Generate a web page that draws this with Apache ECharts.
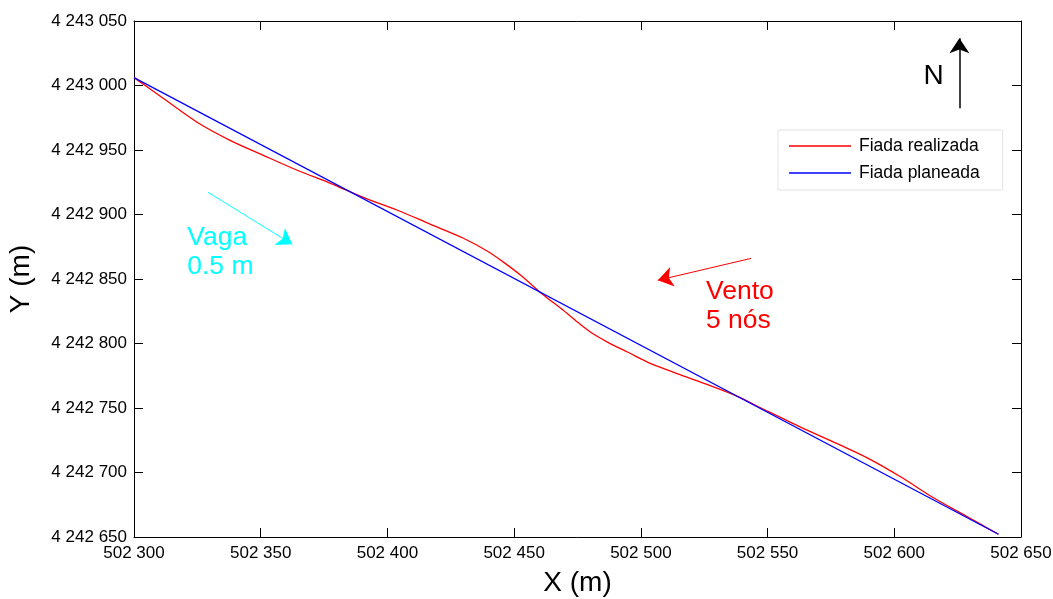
<!DOCTYPE html>
<html><head><meta charset="utf-8">
<script src="https://cdn.jsdelivr.net/npm/echarts@6/dist/echarts.min.js"></script>
<style>html,body{margin:0;padding:0;background:#fff}#c{width:1053px;height:599px}</style>
</head><body><div id="c"></div>
<script>
// ---- data ----
const xRange = [502300, 502650];
const yRange = [4242650, 4243050];
const tickStep = 50;

const seriesNames = ['Fiada realizada', 'Fiada planeada'];

const realX = [502300.0, 502311.5, 502324.9, 502337.9, 502351.0, 502364.4, 502377.5, 502390.5, 502404.0, 502417.0, 502430.0, 502439.5, 502445.9, 502452.6, 502461.7, 502468.4, 502475.1, 502480.2, 502487.0, 502494.9, 502502.8, 502513.0, 502524.9, 502538.3, 502547.4, 502563.2, 502576.3, 502589.7, 502602.8, 502615.8, 502629.2, 502641.1];
const realY = [4243006.1, 4242990.1, 4242971.5, 4242957.5, 4242945.9, 4242934.3, 4242924.2, 4242913.3, 4242903.3, 4242892.4, 4242881.6, 4242871.5, 4242862.9, 4242852.9, 4242837.4, 4242827.3, 4242816.4, 4242808.7, 4242800.9, 4242793.2, 4242785.4, 4242777.7, 4242769.1, 4242758.8, 4242750.0, 4242735.0, 4242723.4, 4242711.0, 4242696.3, 4242680.0, 4242665.3, 4242652.1];

const planX = [502300.0, 502641.1];
const planY = [4243006.1, 4242652.1];

// annotations (data coordinates)
const waveArrow = [[502329.2, 4242917.2], [502362.5, 4242876.9]];
const windArrow = [[502543.5, 4242866.0], [502506.7, 4242849.0]];
const northArrow = [[502625.7, 4242982.3], [502625.7, 4243036.6]];
const waveText = {pos: [502321.0, 4242893.2], text: 'Vaga\n0.5 m'};
const windText = {pos: [502525.7, 4242851.5], text: 'Vento\n5 nós'};
const northText = {pos: [502611.5, 4243019.5], text: 'N'};

// ---- chart ----
const fmt = v => String(v).replace(/\B(?=(\d{3})+(?!\d))/g, ' ');
const pairs = (xs, ys) => xs.map((x, i) => [x, ys[i]]);
const FONT = 'Liberation Sans, Arial, sans-serif';

function axisBase(extra) {
  return Object.assign({
    type: 'value',
    interval: tickStep,
    axisLine: {show: true, onZero: false, lineStyle: {color: '#000', width: 1}},
    axisTick: {show: true, inside: true, length: 9, lineStyle: {color: '#000'}},
    splitLine: {show: false},
  }, extra);
}

const chart = echarts.init(document.getElementById('c'), null, {renderer: 'canvas'});
chart.setOption({
  animation: false,
  backgroundColor: '#fff',
  grid: {left: 134, right: 32, top: 21, bottom: 62, containLabel: false, outerBoundsMode: 'none'},
  xAxis: [
    axisBase({min: xRange[0], max: xRange[1], position: 'bottom',
      name: 'X (m)', nameLocation: 'middle', nameGap: 32,
      nameTextStyle: {fontFamily: FONT, fontSize: 28, color: '#000'},
      axisLabel: {formatter: fmt, fontFamily: FONT, fontSize: 17, color: '#000', margin: 8}}),
    axisBase({min: xRange[0], max: xRange[1], position: 'top', axisLabel: {show: false}})
  ],
  yAxis: [
    axisBase({min: yRange[0], max: yRange[1], position: 'left',
      name: 'Y (m)', nameLocation: 'middle', nameGap: 99,
      nameTextStyle: {fontFamily: FONT, fontSize: 28, color: '#000'},
      axisLabel: {formatter: fmt, fontFamily: FONT, fontSize: 17, color: '#000', margin: 7}}),
    axisBase({min: yRange[0], max: yRange[1], position: 'right', axisLabel: {show: false}})
  ],
  legend: {
    data: seriesNames,
    orient: 'vertical',
    left: 778, top: 130,
    padding: [7, 23, 8, 11],
    icon: 'rect',
    itemWidth: 62, itemHeight: 1.5, itemGap: 9,
    backgroundColor: '#fff',
    borderColor: '#e4e4e4', borderWidth: 1,
    textStyle: {fontFamily: FONT, fontSize: 17.5, lineHeight: 18, color: '#000', padding: [0, 0, 0, 3]}
  },
  series: [
    {name: seriesNames[0], type: 'line', data: pairs(realX, realY), symbol: 'none', smooth: 0.3,
     lineStyle: {color: '#ff0000', width: 1.3}, itemStyle: {color: '#ff0000'}, z: 3},
    {name: seriesNames[1], type: 'line', data: pairs(planX, planY), symbol: 'none',
     lineStyle: {color: '#0000ff', width: 1.3}, itemStyle: {color: '#0000ff'}, z: 4},
    {type: 'lines', coordinateSystem: 'cartesian2d', silent: true,
     symbol: ['none', 'arrow'], symbolSize: [11, 15],
     data: [
       {coords: waveArrow, lineStyle: {color: '#00ffff', width: 1, opacity: 1}},
       {coords: windArrow, lineStyle: {color: '#ff0000', width: 1, opacity: 1}},
       {coords: northArrow, lineStyle: {color: '#000000', width: 1.5, opacity: 1}}
     ], z: 5},
    {type: 'scatter', symbolSize: 0, silent: true, z: 6,
     itemStyle: {opacity: 1},
     label: {show: true, position: [0, 0], align: 'left', verticalAlign: 'top', opacity: 1,
       fontFamily: FONT, fontSize: 26.5, lineHeight: 29},
     data: [
       {value: waveText.pos, label: {formatter: waveText.text, color: '#00ffff'}},
       {value: windText.pos, label: {formatter: windText.text, color: '#ff0000'}},
       {value: northText.pos, label: {formatter: northText.text, color: '#000000', fontSize: 28, lineHeight: 31}}
     ]}
  ]
});
</script>
</body></html>
